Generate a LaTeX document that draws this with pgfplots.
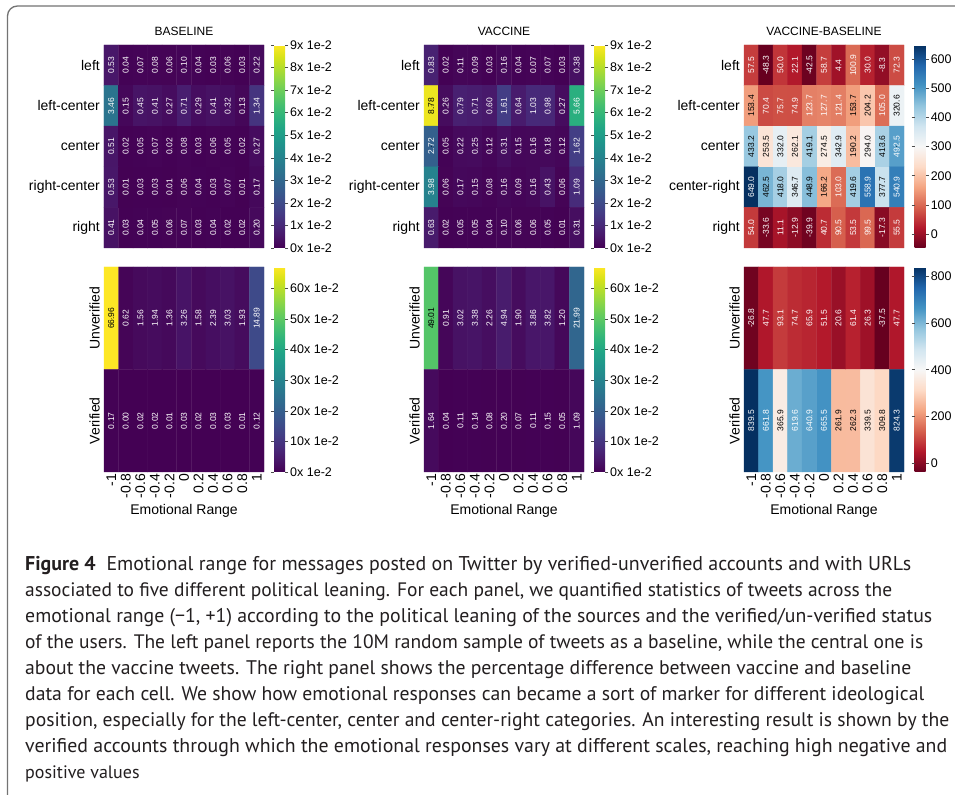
\documentclass[border=0pt]{standalone}
\usepackage{pgfplots}
\pgfplotsset{compat=1.18}
\usepackage{pgfplotstable}
\usepgfplotslibrary{colormaps}
\usepackage{fontspec}
\setmainfont{Liberation Sans}
\newfontfamily\capfont{PT Sans}
\definecolor{captxt}{RGB}{35,31,32}
\pgfplotsset{colormap={RdBu}{rgb255=(103,0,31) rgb255=(178,24,43) rgb255=(214,96,77) rgb255=(244,165,130) rgb255=(253,219,199) rgb255=(247,247,247) rgb255=(209,229,240) rgb255=(146,197,222) rgb255=(67,147,195) rgb255=(33,102,172) rgb255=(5,48,97)}}

\newcommand{\addxy}[1]{%
  \pgfplotstablecreatecol[expr={mod(\pgfplotstablerow,11)}]{xx}{#1}%
  \pgfplotstablecreatecol[expr={floor(\pgfplotstablerow/11)}]{yy}{#1}}

% ---------------- data: cell value c and text colour tk (1 = black text, 0 = white), row by row, -1 ... 1
\pgfplotstableread[row sep=\\]{c tk\\
0.53 0\\0.04 0\\0.07 0\\0.08 0\\0.06 0\\0.10 0\\0.04 0\\0.03 0\\0.06 0\\0.03 0\\0.22 0\\
3.46 0\\0.15 0\\0.45 0\\0.41 0\\0.27 0\\0.71 0\\0.29 0\\0.41 0\\0.32 0\\0.13 0\\1.34 0\\
0.51 0\\0.02 0\\0.05 0\\0.07 0\\0.02 0\\0.08 0\\0.03 0\\0.06 0\\0.05 0\\0.02 0\\0.27 0\\
0.53 0\\0.01 0\\0.03 0\\0.03 0\\0.01 0\\0.06 0\\0.04 0\\0.03 0\\0.07 0\\0.01 0\\0.17 0\\
0.41 0\\0.03 0\\0.04 0\\0.05 0\\0.06 0\\0.07 0\\0.03 0\\0.04 0\\0.02 0\\0.02 0\\0.20 0\\
}\tabA
\pgfplotstableread[row sep=\\]{c tk\\
0.83 0\\0.02 0\\0.11 0\\0.09 0\\0.03 0\\0.16 0\\0.04 0\\0.07 0\\0.07 0\\0.03 0\\0.38 0\\
8.78 1\\0.26 0\\0.79 0\\0.71 0\\0.60 0\\1.61 0\\0.64 0\\1.03 0\\0.98 0\\0.27 0\\5.66 0\\
2.72 0\\0.05 0\\0.22 0\\0.25 0\\0.12 0\\0.31 0\\0.15 0\\0.16 0\\0.18 0\\0.12 0\\1.62 0\\
3.98 0\\0.06 0\\0.17 0\\0.15 0\\0.08 0\\0.16 0\\0.09 0\\0.16 0\\0.43 0\\0.06 0\\1.09 0\\
0.63 0\\0.02 0\\0.05 0\\0.05 0\\0.04 0\\0.10 0\\0.06 0\\0.06 0\\0.05 0\\0.01 0\\0.31 0\\
}\tabB
\pgfplotstableread[row sep=\\]{c tk\\
57.5 0\\-48.3 0\\50.0 0\\22.1 0\\-42.5 0\\58.7 0\\4.4 0\\100.9 0\\30.0 0\\-8.3 0\\72.3 0\\
153.4 1\\70.4 0\\75.7 0\\74.9 0\\123.7 0\\127.7 0\\121.4 0\\153.7 1\\204.2 1\\105.0 0\\320.6 1\\
433.2 1\\253.5 1\\332.0 1\\262.1 1\\419.1 1\\274.5 1\\342.9 1\\190.2 1\\294.0 1\\413.6 1\\492.5 0\\
649.0 0\\462.5 1\\418.0 1\\346.7 1\\448.9 1\\166.2 1\\103.0 0\\419.6 1\\558.9 0\\377.7 1\\540.9 0\\
54.0 0\\-33.6 0\\11.1 0\\-12.9 0\\-39.9 0\\40.7 0\\90.5 0\\53.5 0\\99.5 0\\-17.3 0\\55.5 0\\
}\tabC
\pgfplotstableread[row sep=\\]{c tk\\
66.96 1\\0.62 0\\1.56 0\\1.94 0\\1.36 0\\3.26 0\\1.58 0\\2.39 0\\3.03 0\\1.93 0\\14.89 0\\
0.17 0\\0.00 0\\0.02 0\\0.02 0\\0.01 0\\0.03 0\\0.02 0\\0.03 0\\0.03 0\\0.01 0\\0.12 0\\
}\tabD
\pgfplotstableread[row sep=\\]{c tk\\
49.01 1\\0.91 0\\3.02 0\\3.38 0\\2.26 0\\4.94 0\\1.90 0\\3.86 0\\3.82 0\\1.20 0\\21.99 0\\
1.64 0\\0.04 0\\0.11 0\\0.14 0\\0.08 0\\0.20 0\\0.07 0\\0.11 0\\0.15 0\\0.05 0\\1.09 0\\
}\tabE
\pgfplotstableread[row sep=\\]{c tk\\
-26.8 0\\47.7 0\\93.1 0\\74.7 0\\65.9 0\\51.5 0\\20.6 0\\61.4 0\\26.3 0\\-37.5 0\\47.7 0\\
839.5 0\\661.8 0\\365.9 1\\619.6 0\\640.9 0\\665.5 0\\261.9 1\\262.3 1\\339.5 1\\309.8 1\\824.3 0\\
}\tabF
\addxy{\tabA}\addxy{\tabB}\addxy{\tabC}\addxy{\tabD}\addxy{\tabE}\addxy{\tabF}

\newcommand{\cells}[1]{%
  \addplot[matrix plot*, mesh/cols=11, point meta=explicit]
    table[x=xx, y=yy, meta=c]{#1};
  \addplot[only marks, mark=*, mark size=0.1pt, mark options={draw=none,fill=none},
    point meta=explicit symbolic,
    visualization depends on={100*\thisrow{tk} \as \tcpct},
    nodes near coords,
    every node near coord/.append style={rotate=90, anchor=center, inner sep=0pt,
      font=\fontsize{8.5}{10}\selectfont, text=black!\tcpct!white}]
    table[x=xx, y=yy, meta=c]{#1};
}

\pgfplotsset{
  hm/.style={scale only axis, width=160pt, anchor=north west,
    enlargelimits=false, xmin=-0.5, xmax=10.5, y dir=reverse,
    axis line style={draw=none}, tick style={draw=none}, clip=false,
    title style={font=\fontsize{12}{14}\selectfont, at={(0.5,1)}, anchor=base, yshift=3pt},
    colorbar,
    colorbar style={at={(parent axis.north east)}, anchor=north west, xshift=1.5pt,
      width=11pt, axis line style={draw=none}, tick align=outside,
      major tick length=3pt, ytick style={draw=black!70, line width=0.5pt},
      yticklabel style={font=\fontsize{12.5}{14}\selectfont, inner xsep=2pt}}},
  top/.style={hm, height=203pt, ymin=-0.5, ymax=4.5, xtick=\empty,
    ytick={0,1,2,3,4},
    yticklabel style={font=\fontsize{14}{16}\selectfont, inner xsep=4pt, inner ysep=0pt}},
  bot/.style={hm, height=205pt, ymin=-0.5, ymax=1.5,
    ytick={0,1}, yticklabels={Unverified,Verified},
    yticklabel style={rotate=90, anchor=south, font=\fontsize{14}{16}\selectfont, inner ysep=4pt, inner xsep=0pt},
    xtick={0,1,2,3,4,5,6,7,8,9,10},
    xticklabels={-1,-0.8,-0.6,-0.4,-0.2,0,0.2,0.4,0.6,0.8,1},
    xticklabel style={rotate=90, anchor=east, font=\fontsize{14}{16}\selectfont, inner xsep=2pt, inner ysep=0pt},
    xlabel={Emotional Range},
    xlabel style={at={(axis description cs:0.5,0)}, anchor=base, yshift=-43pt, font=\fontsize{14}{16}\selectfont}},
  vir9/.style={colormap/viridis, point meta min=0, point meta max=9,
    colorbar style={ytick={0,1,2,3,4,5,6,7,8,9},
      yticklabels={0x 1e-2,1x 1e-2,2x 1e-2,3x 1e-2,4x 1e-2,5x 1e-2,6x 1e-2,7x 1e-2,8x 1e-2,9x 1e-2}}},
  vir67/.style={colormap/viridis, point meta min=0, point meta max=66.96,
    colorbar style={ytick={0,10,20,30,40,50,60},
      yticklabels={0x 1e-2,10x 1e-2,20x 1e-2,30x 1e-2,40x 1e-2,50x 1e-2,60x 1e-2}}},
}

\begin{document}
\begin{tikzpicture}
\useasboundingbox (0,0) rectangle (955pt,797pt);
\fill[white] (0,0) rectangle (955pt,797pt);
\draw[black!55, line width=1.3pt, rounded corners=10pt] (7.5pt,2pt) |- (975pt,791pt);

% ---------- top row
\begin{axis}[top, vir9, at={(104pt,752pt)}, title={BASELINE},
  yticklabels={left,left-center,center,right-center,right}]
\cells{\tabA}
\end{axis}
\begin{axis}[top, vir9, at={(424pt,752pt)}, title={VACCINE},
  yticklabels={left,left-center,center,right-center,right}]
\cells{\tabB}
\end{axis}
\begin{axis}[top, colormap name=RdBu, point meta min=-48.3, point meta max=649.0,
  at={(744pt,752pt)}, title={VACCINE-BASELINE},
  yticklabels={left,left-center,center,center-right,right},
  colorbar style={xshift=0.5pt, ytick={0,100,200,300,400,500,600},
    yticklabels={0,100,200,300,400,500,600}}]
\cells{\tabC}
\end{axis}

% ---------- bottom row
\begin{axis}[bot, vir67, at={(104pt,530pt)}]
\cells{\tabD}
\end{axis}
\begin{axis}[bot, vir67, at={(424pt,530pt)}]
\cells{\tabE}
\end{axis}
\begin{axis}[bot, colormap name=RdBu, point meta min=-37.5, point meta max=839.5,
  at={(744pt,530pt)},
  colorbar style={xshift=0.5pt, ytick={0,200,400,600,800},
    yticklabels={0,200,400,600,800}}]
\cells{\tabF}
\end{axis}

% ---------- caption
\begin{scope}[every node/.style={anchor=base west, inner sep=0pt, text=captxt,
    font=\capfont\fontsize{18}{20}\selectfont}]
\node at (25pt,226pt) {\resizebox{886pt}{!}{\textbf{Figure 4}\hspace{0.55em}Emotional range for messages posted on Twitter by verified-unverified accounts and with URLs}};
\node at (25pt,200pt) {\resizebox{867pt}{!}{associated to five different political leaning. For each panel, we quantified statistics of tweets across the}};
\node at (25pt,174pt) {\resizebox{907pt}{!}{emotional range (−1, +1) according to the political leaning of the sources and the verified/un-verified status}};
\node at (25pt,148pt) {\resizebox{898pt}{!}{of the users. The left panel reports the 10M random sample of tweets as a baseline, while the central one is}};
\node at (25pt,122pt) {\resizebox{886pt}{!}{about the vaccine tweets. The right panel shows the percentage difference between vaccine and baseline}};
\node at (25pt,96pt) {\resizebox{899pt}{!}{data for each cell. We show how emotional responses can became a sort of marker for different ideological}};
\node at (25pt,70pt) {\resizebox{924pt}{!}{position, especially for the left-center, center and center-right categories. An interesting result is shown by the}};
\node at (25pt,44pt) {\resizebox{922pt}{!}{verified accounts through which the emotional responses vary at different scales, reaching high negative and}};
\node at (25pt,18pt) {positive values};
\end{scope}
\end{tikzpicture}
\end{document}
